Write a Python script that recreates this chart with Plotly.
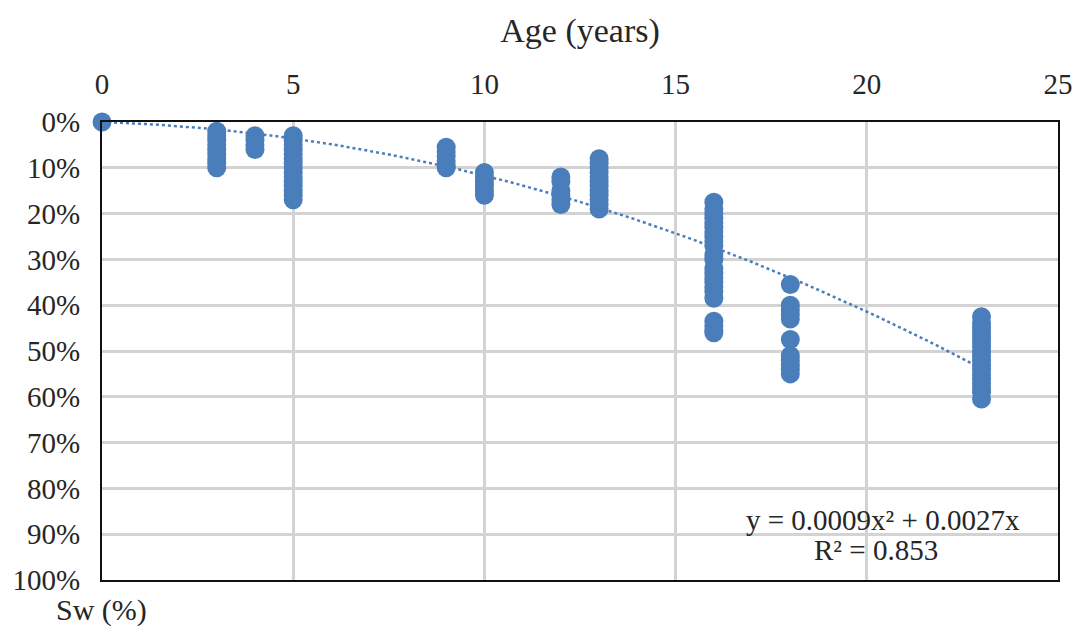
import numpy as np
import plotly.graph_objects as go

# Water saturation (fraction) observed at each age, grouped by age in years
ages = [0, 3, 4, 5, 9, 10, 12, 13, 16, 18, 23]
sw_by_age = [
    [0.0],
    [0.02, 0.03, 0.04, 0.05, 0.06, 0.07, 0.08, 0.09, 0.10],
    [0.03, 0.04, 0.05, 0.06],
    [0.03, 0.04, 0.05, 0.06, 0.07, 0.08, 0.09, 0.10, 0.11, 0.12, 0.13, 0.14, 0.15, 0.16, 0.17],
    [0.055, 0.065, 0.075, 0.085, 0.095, 0.10],
    [0.11, 0.12, 0.13, 0.14, 0.15, 0.16],
    [0.12, 0.13, 0.15, 0.16, 0.17, 0.18],
    [0.08, 0.09, 0.10, 0.11, 0.12, 0.13, 0.14, 0.15, 0.16, 0.17, 0.18, 0.19],
    [0.175, 0.19, 0.20, 0.21, 0.22, 0.23, 0.24, 0.25, 0.26, 0.27, 0.29, 0.30, 0.32,
     0.33, 0.34, 0.35, 0.36, 0.37, 0.385, 0.435, 0.445, 0.455, 0.46],
    [0.355, 0.40, 0.41, 0.42, 0.43, 0.475, 0.51, 0.52, 0.53, 0.54, 0.55],
    [0.425, 0.44, 0.45, 0.46, 0.47, 0.48, 0.49, 0.50, 0.51, 0.52, 0.53, 0.54, 0.55,
     0.56, 0.57, 0.58, 0.59, 0.605],
]

# Polynomial trendline (order 2, through origin)
trend_a = 0.0009
trend_b = 0.0027
trend_r2 = 0.853

x_ticks = [0, 5, 10, 15, 20, 25]
y_ticks = [i / 10 for i in range(11)]

xs, ys = [], []
for a, vals in zip(ages, sw_by_age):
    xs += [a] * len(vals)
    ys += vals

blue = "#4a7ebb"
text_color = "#262626"
font_family = "Liberation Serif, Times New Roman, serif"

tx = np.linspace(0, max(ages), 120)
ty = trend_a * tx ** 2 + trend_b * tx

fig = go.Figure()
fig.add_trace(go.Scatter(
    x=tx, y=ty, mode="lines",
    line=dict(color=blue, width=2.5, dash="dot"),
    hoverinfo="skip", showlegend=False,
))
fig.add_trace(go.Scatter(
    x=xs, y=ys, mode="markers",
    marker=dict(color=blue, size=19, line=dict(width=0)),
    cliponaxis=False, showlegend=False,
))

fig.update_layout(
    width=1075, height=628,
    margin=dict(l=102, r=17, t=122, b=48),
    paper_bgcolor="white", plot_bgcolor="white",
    font=dict(family=font_family, size=29, color=text_color),
    showlegend=False,
    xaxis=dict(
        side="top", range=[0, 25], tickvals=x_ticks, ticktext=[str(v) for v in x_ticks],
        showgrid=True, gridcolor="#d3d3d3", gridwidth=3,
        showline=True, linecolor="#111", linewidth=2, mirror=True,
        ticks="", ticklabelstandoff=14, zeroline=False, automargin=False,
        tickfont=dict(size=29),
        title=dict(text="Age (years)", font=dict(size=34), standoff=16),
    ),
    yaxis=dict(
        range=[1, 0], tickvals=y_ticks, tickformat=".0%",
        showgrid=True, gridcolor="#d3d3d3", gridwidth=3,
        showline=True, linecolor="#111", linewidth=2, mirror=True,
        ticks="", ticklabelstandoff=14, zeroline=False, automargin=False,
        tickfont=dict(size=29),
    ),
    annotations=[
        dict(text="Sw (%)", xref="paper", yref="paper", x=-0.05, y=-0.025,
             xanchor="left", yanchor="top", showarrow=False, font=dict(size=30)),
        dict(text=f"y = {trend_a}x² + {trend_b}x",
             xref="paper", yref="paper", x=0.817, y=0.13, xanchor="center", yanchor="middle",
             showarrow=False, font=dict(size=29)),
        dict(text=f"R² = {trend_r2}",
             xref="paper", yref="paper", x=0.81, y=0.066, xanchor="center", yanchor="middle",
             showarrow=False, font=dict(size=29)),
    ],
)

fig.write_html("out.html")
